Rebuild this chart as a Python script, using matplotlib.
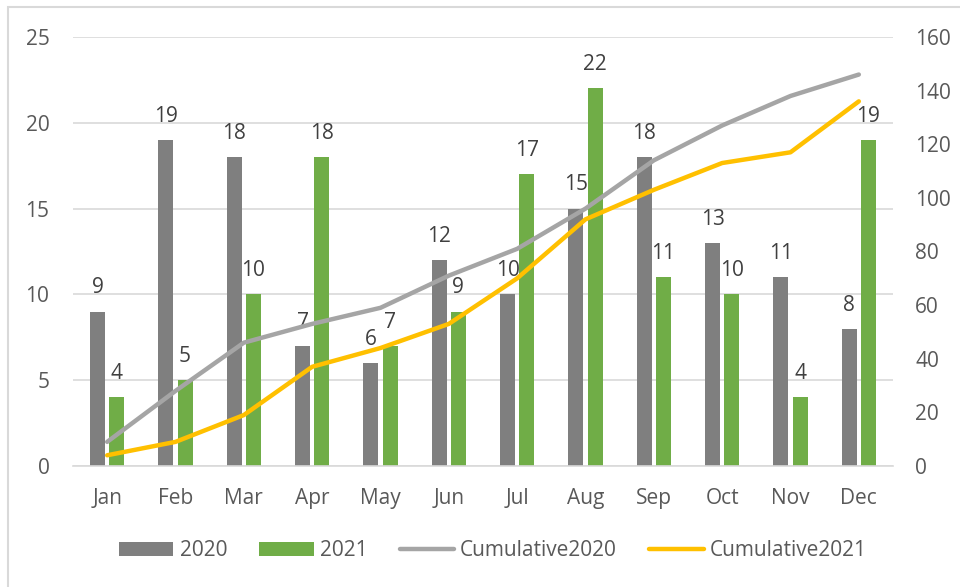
import numpy as np
import matplotlib.pyplot as plt
from matplotlib.patches import Rectangle

months = ['Jan', 'Feb', 'Mar', 'Apr', 'May', 'Jun', 'Jul', 'Aug', 'Sep', 'Oct', 'Nov', 'Dec']
vals_2020 = [9, 19, 18, 7, 6, 12, 10, 15, 18, 13, 11, 8]
vals_2021 = [4, 5, 10, 18, 7, 9, 17, 22, 11, 10, 4, 19]
cum_2020 = np.cumsum(vals_2020)
cum_2021 = np.cumsum(vals_2021)

plt.rcParams['font.family'] = ['Open Sans', 'DejaVu Sans']
txt_col = '#595959'
grid_col = '#d9d9d9'
fs = 15

fig = plt.figure(figsize=(9.6, 5.87), dpi=100)
# chart border (only top/left visible in the screenshot)
fig.patches.append(Rectangle((8 / 960, -0.1), 1.2, 1 - 7 / 587 + 0.1,
                             transform=fig.transFigure, fill=False,
                             edgecolor=grid_col, linewidth=1.5))

ax = fig.add_axes([73 / 960, 1 - 466 / 587, 820 / 960, 429 / 587])
x = np.arange(len(months))
w = 0.22
b1 = ax.bar(x - w / 2 - 0.03, vals_2020, w, color='#7f7f7f', label='2020', zorder=2)
b2 = ax.bar(x + w / 2 + 0.03, vals_2021, w, color='#70ad47', label='2021', zorder=2)
for bars in (b1, b2):
    for r in bars:
        ax.annotate(str(int(r.get_height())), (r.get_x() + r.get_width() / 2, r.get_height()),
                    xytext=(0, 9.5), textcoords='offset points', ha='center', va='bottom',
                    fontsize=fs, color='#404040')

ax.set_xlim(-0.5, len(months) - 0.5)
ax.set_ylim(0, 25)
ax.set_yticks(range(0, 26, 5))
ax.set_xticks(x)
ax.set_xticklabels(months)
ax.yaxis.grid(True, color=grid_col, linewidth=1.2, zorder=0)
ax.set_axisbelow(True)
for s in ['top', 'left', 'right']:
    ax.spines[s].set_visible(False)
ax.spines['bottom'].set_color(grid_col)
ax.spines['bottom'].set_linewidth(1.2)
ax.tick_params(axis='both', length=0, labelsize=fs, colors=txt_col)
ax.tick_params(axis='y', pad=17)
ax.tick_params(axis='x', pad=16)

ax2 = ax.twinx()
l1, = ax2.plot(x, cum_2020, color='#a5a5a5', linewidth=3.2, label='Cumulative2020', solid_capstyle='round')
l2, = ax2.plot(x, cum_2021, color='#ffc000', linewidth=3.2, label='Cumulative2021', solid_capstyle='round')
ax2.set_ylim(0, 160)
ax2.set_yticks(range(0, 161, 20))
for s in ax2.spines.values():
    s.set_visible(False)
ax2.tick_params(axis='y', length=0, labelsize=fs, colors=txt_col, pad=16)

leg = fig.legend(handles=[b1, b2, l1, l2], loc='center', bbox_to_anchor=(493 / 960, 1 - 551 / 587),
                 ncol=4, frameon=False, fontsize=fs, handlelength=2.6, handleheight=0.65,
                 handletextpad=0.3, columnspacing=1.55)
for t in leg.get_texts():
    t.set_color(txt_col)

fig.savefig('out.png', dpi=100)
